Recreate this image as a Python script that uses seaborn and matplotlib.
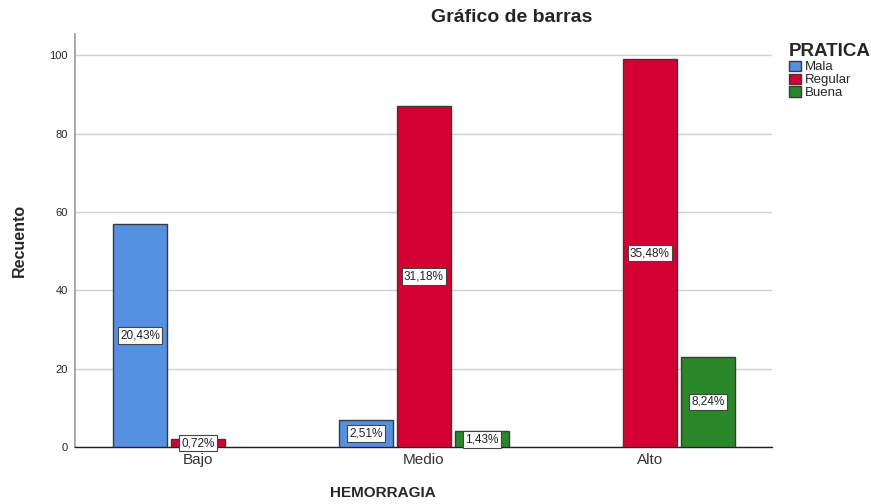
import matplotlib
matplotlib.use('Agg')
import matplotlib.pyplot as plt
import pandas as pd
import seaborn as sns

# Datos del gráfico
categorias = ['Bajo', 'Medio', 'Alto']
practicas = ['Mala', 'Regular', 'Buena']
mala = [57, 7, 0]
regular = [2, 87, 99]
buena = [0, 4, 23]
colores = ['#5591E0', '#D50032', '#2A882A']

df = pd.DataFrame({
    'HEMORRAGIA': categorias * 3,
    'PRATICA': [p for p in practicas for _ in categorias],
    'Recuento': mala + regular + buena,
})
total = df['Recuento'].sum()

sns.set_style('white')
plt.rcParams['font.family'] = ['Arial', 'Liberation Sans', 'DejaVu Sans']

fig = plt.figure(figsize=(8.71, 5.04), dpi=100)
ax = fig.add_axes([0.0861, 0.1131, 0.8002, 0.8194])

sns.barplot(data=df, x='HEMORRAGIA', y='Recuento', hue='PRATICA',
            order=categorias, hue_order=practicas, palette=colores,
            width=0.77, gap=0.07, edgecolor='#3a3a3a', linewidth=1.0,
            saturation=1, ax=ax, legend=True, zorder=3)

# Etiquetas de porcentaje (las barras en cero no se ven)
for cont in ax.containers:
    for rect in cont:
        h = rect.get_height()
        if h <= 0:
            rect.set_visible(False)
            continue
        ax.text(rect.get_x() + rect.get_width() / 2, h / 2,
                f'{h / total * 100:.2f}%'.replace('.', ','),
                ha='center', va='center', fontsize=8.5, color='#222222', zorder=5,
                bbox=dict(boxstyle='square,pad=0.2', fc='white', ec='#444444', lw=0.8))

ax.set_xlim(-0.544, 2.54)
ax.set_ylim(0, 105.4)
ax.set_yticks([0, 20, 40, 60, 80, 100])
ax.yaxis.grid(True, color='#d0d0d0', linewidth=1.0, zorder=0)
ax.set_axisbelow(True)
ax.tick_params(axis='y', labelsize=8, length=3, color='#888888', pad=2)
ax.tick_params(axis='x', labelsize=11, length=0, pad=4, labelcolor='#333333')
for s in ['top', 'right']:
    ax.spines[s].set_visible(False)
ax.spines['left'].set_color('#999999')
ax.spines['left'].set_linewidth(1.2)
ax.spines['bottom'].set_color('#222222')
ax.spines['bottom'].set_linewidth(1.0)

ax.set_xlabel('HEMORRAGIA', fontsize=11, fontweight='bold')
ax.xaxis.set_label_coords(0.442, -0.094)
ax.set_ylabel('Recuento', fontsize=11.5, fontweight='bold')
ax.yaxis.set_label_coords(-0.069, 0.5)
fig.text(512 / 871, 1 - 18 / 504, 'Gráfico de barras', ha='center', va='center',
         fontsize=14, fontweight='bold')

leg = ax.legend(title='PRATICA', loc='upper left', bbox_to_anchor=(1.017, 0.99),
                frameon=False, fontsize=9.5, title_fontsize=13.5, handlelength=0.9,
                handleheight=0.8, handletextpad=0.3, labelspacing=0.02,
                borderaxespad=0, alignment='left')
leg.get_title().set_fontweight('bold')

fig.savefig('out.png', dpi=100)
